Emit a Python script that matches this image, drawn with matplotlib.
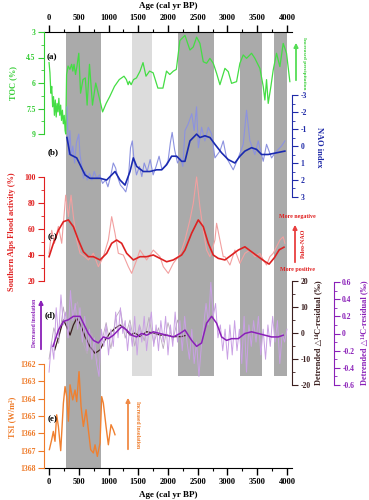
import numpy as np
import matplotlib
matplotlib.use('Agg')
import matplotlib.pyplot as plt
from matplotlib.ticker import MultipleLocator, FuncFormatter
from matplotlib.patches import FancyArrowPatch

plt.rcParams['font.family'] = ['Liberation Serif', 'DejaVu Serif', 'DejaVu Sans']
plt.rcParams['font.weight'] = 'bold'

# shaded intervals (cal yr BP)
band_start = [290, 1400, 2170, 3210, 3780]
band_end = [870, 1730, 2770, 3580, 4000]
band_kind = ['dark_full', 'light', 'dark', 'dark', 'dark']

# (a) TOC (%)
toc_age = [0, 15, 30, 45, 60, 75, 90, 105, 120, 135, 150, 165, 180, 195, 210, 225, 240, 255, 270, 280,
           295, 320, 350, 380, 400, 420, 445, 470, 500, 530, 570, 610, 640, 680, 730, 785, 840, 900,
           960, 1020, 1100, 1180, 1260, 1300, 1330, 1350, 1380, 1420, 1470, 1530, 1580, 1630, 1690,
           1750, 1830, 1915, 1975, 2030, 2090, 2140, 2200, 2285, 2369, 2425, 2481, 2537, 2593, 2649,
           2705, 2761, 2817, 2873, 2957, 3013, 3069, 3153, 3209, 3265, 3321, 3405, 3461, 3545, 3601,
           3629, 3657, 3685, 3730, 3769, 3825, 3881, 3937, 3993, 4049]
toc_val = [4.8, 5.4, 6.6, 6.2, 7.4, 6.8, 7.9, 7.0, 8.0, 7.2, 7.7, 6.9, 7.9, 7.3, 8.2, 7.6, 8.4, 7.9, 8.8, 9.0,
           5.5, 5.0, 5.2, 4.9, 5.3, 4.9, 5.5, 5.0, 4.25, 6.6, 5.8, 5.7, 7.3, 4.9, 7.3, 6.0, 6.8, 7.7,
           7.2, 6.8, 6.2, 5.8, 5.6, 5.8, 6.1, 5.9, 6.1, 5.8, 5.7, 5.3, 4.8, 5.6, 5.3,
           5.4, 6.3, 6.3, 5.3, 5.5, 5.3, 5.2, 3.5, 3.2, 4.06, 3.88, 3.3, 3.67, 4.75, 4.84,
           4.55, 4.84, 5.43, 6.1, 5.14, 5.33, 6.02, 5.92, 4.84, 4.35, 4.55, 4.25, 4.55, 5.14, 6.2,
           7.0, 5.8, 7.2, 6.2, 5.24, 4.25, 5.04, 3.67, 4.25, 5.92]

# (b) NAO index
nao_raw_age = [300, 330, 350, 375, 400, 430, 460, 500, 520, 550, 580, 610, 640, 680, 720, 760, 800, 850,
               900, 950, 990, 1040, 1080, 1120, 1160, 1200, 1250, 1290, 1330, 1370, 1400, 1430, 1470,
               1520, 1560, 1600, 1650, 1700, 1750, 1800, 1850, 1900, 1950, 2000, 2040, 2070, 2110,
               2160, 2210, 2250, 2285, 2340, 2400, 2440, 2480, 2510, 2565, 2620, 2677, 2733, 2789,
               2873, 2929, 2985, 3097, 3181, 3265, 3321, 3377, 3461, 3517, 3601, 3657, 3741, 3825,
               3909, 3965]
nao_raw = [-2.3, 0.5, -0.9, 0.6, 0.0, 1.0, -0.2, -0.7, 0.5, 1.2, 1.9, 1.5, 2.0, 1.6, 2.0, 1.5, 1.9, 1.7,
           2.2, 2.0, 2.4, 1.7, 1.0, 1.3, 1.9, 2.3, 2.5, 2.7, 2.1, 0.1, -0.3, 0.9, 1.7,
           1.2, 1.8, 1.0, 1.5, 0.8, 1.7, 1.2, 0.6, 1.4, 1.2, 0.9, -0.2, -0.8, 0.2,
           1.0, 0.7, 1.2, -0.9, -1.3, -1.9, -0.9, -2.3, 0.1, -1.1, -0.3, -1.1, -0.7, 0.7,
           0.3, -0.3, 0.7, 1.4, 0.7, -0.1, -2.1, -0.3, 0.5, -0.3, 0.9, -0.1, 0.7, 0.3,
           0.0, -0.3]
nao_sm_age = [300, 353, 465, 521, 605, 689, 857, 969, 1109, 1193, 1277, 1361, 1417, 1473, 1585, 1697,
              1809, 1893, 1977, 2061, 2145, 2229, 2285, 2369, 2481, 2537, 2621, 2705, 2789, 2901,
              3013, 3125, 3209, 3293, 3405, 3489, 3573, 3685, 3825, 3965]
nao_sm = [-0.5, 0.5, 0.7, 1.1, 1.7, 1.9, 1.9, 2.0, 1.5, 2.0, 2.3, 1.5, 0.7, 1.2, 1.5, 1.5,
          1.4, 1.4, 1.1, 0.6, 0.6, 0.9, 0.9, -0.3, -0.7, -0.5, -0.6, -0.5, -0.1, 0.4,
          0.8, 1.0, 0.6, 0.3, 0.1, 0.2, 0.5, 0.5, 0.4, 0.3]

# (c) Southern Alps flood activity (%)
fl_raw_age = [0, 45, 90, 157, 213, 280, 325, 370, 409, 465, 521, 605, 661, 745, 829, 913, 997, 1053,
              1109, 1165, 1249, 1333, 1389, 1473, 1529, 1641, 1753, 1865, 1921, 2005, 2089, 2173,
              2229, 2285, 2369, 2425, 2481, 2537, 2593, 2649, 2705, 2789, 2817, 2873, 2929, 2957,
              3041, 3125, 3209, 3293, 3377, 3461, 3545, 3601, 3657, 3713, 3769, 3825, 3881, 3937,
              3965]
fl_raw = [41.3, 59, 49, 62, 49, 86, 69.5, 86, 69.5, 51.5, 41.3, 38.7, 36.2, 41.3, 31, 38.7, 51.5, 69.5,
          56.7, 41.3, 40, 31, 25.9, 36.2, 43.8, 36.2, 43.8, 38.7, 31, 25.9, 33.6, 38.7,
          43.8, 51.5, 67, 79.7, 100, 76.9, 59, 43.8, 38.7, 51.5, 64.4, 51.5, 38.7, 38.7,
          32.3, 43.8, 33.6, 41.3, 43.8, 38.7, 41.3, 36.2, 32.3, 38.7, 41.3, 46.3, 51.5, 54,
          49]
fl_sm_age = [0, 73, 157, 241, 325, 409, 493, 577, 661, 745, 857, 969, 1053, 1137, 1221, 1305, 1417,
             1529, 1641, 1753, 1865, 1977, 2089, 2229, 2285, 2397, 2509, 2593, 2677, 2761, 2845,
             2957, 3069, 3181, 3293, 3405, 3517, 3630, 3700, 3790, 3870, 3950]
fl_sm = [38.7, 49, 59, 65.6, 67, 61.8, 51.5, 42.5, 38.7, 38.7, 36.2, 41.3, 49, 51.5, 49, 41.3, 36.2,
         38.7, 38.7, 40, 37.4, 34.8, 36.2, 40, 43.8, 56.7, 67, 61.8, 49, 40, 37.4,
         36.2, 40, 43.8, 46.3, 42.5, 38.7, 35, 33, 38, 44, 46]

# (d) Detrended D14C residual
c14_raw_age = list(range(0, 4001, 40))
c14_raw = [-0.45, -0.1, -0.3, 0.3, -0.05, 0.45, 0.1, 0.25, -0.05, 0.5, 0.15, 0.35, 0.05, 0.3, -0.1,
           0.2, -0.2, 0.05, -0.3, -0.05, -0.35, -0.5, 0.05, -0.15, 0.1, -0.25, 0.05, -0.15, 0.25,
           -0.05, 0.3, 0.0, 0.15, -0.2, 0.1, -0.15, 0.2, -0.25, 0.1, -0.1, 0.2, -0.2, 0.05, 0.25,
           -0.15, 0.1, -0.2, 0.15, -0.1, 0.2, -0.25, 0.1, -0.15, 0.25, -0.1, 0.15, -0.2, 0.2, -0.1,
           -0.3, 0.05, -0.35, -0.1, -0.5, -0.15, 0.1, 0.35, 0.1, 0.6, 0.2, 0.35, -0.05, 0.1, -0.2,
           0.05, -0.3, 0.1, -0.25, 0.15, -0.2, 0.05, -0.35, 0.2, -0.45, 0.1, -0.15, 0.15, -0.1,
           0.2, -0.25, 0.05, -0.3, 0.1, -0.15, 0.2, -0.1, 0.15, -0.35, 0.0, -0.1, 0.05]
c14_grey_age = list(range(0, 2321, 80))
c14_grey = [-10, 2, -4, 10, -2, 8, 12, -3, -8, 0, -12, -4, 4, -6, 6, 9, -2, 5, -5, 3, -3, 6, -4, 2,
            -6, 4, -3, 5, -2, 0]
c14_sm_age = [67, 157, 241, 325, 409, 521, 577, 661, 745, 829, 913, 997, 1081, 1165, 1221, 1305, 1389,
              1473, 1557, 1641, 1753, 1865, 1977, 2089, 2201, 2285, 2397, 2481, 2565, 2649, 2733,
              2817, 2901, 2985, 3069, 3181, 3293, 3405, 3517, 3629, 3741, 3853, 3937]
c14_sm = [-0.15, 0.04, 0.14, 0.16, 0.2, 0.2, 0.12, 0.0, -0.08, -0.11, -0.04, -0.06, -0.02, 0.04, 0.08,
          0.04, -0.02, -0.04, 0.0, -0.02, 0.02, 0.0, -0.02, -0.04, 0.0, 0.04, -0.08, -0.15, -0.11,
          0.12, 0.2, 0.12, -0.04, -0.08, -0.06, -0.06, 0.0, 0.02, 0.0, -0.02, -0.04, -0.04, -0.02]
c14_blk_age = [95, 179, 241, 297, 353, 409, 465, 521, 605, 689, 773, 857, 941, 1025, 1109, 1193, 1277,
               1361, 1445, 1529, 1641, 1753, 1865, 1977, 2089, 2229, 2285]
c14_blk = [-6.5, 0, 5, 2.4, -0.8, 3.1, 5.6, 3.7, -1.4, -5.3, -7.8, -6.5, -2.7, 0, 1.8, 3.1, 1.8,
           -0.8, 0, -1.4, 0.5, 0, -0.8, -0.8, -1.4, -1.4, -1.0]

# (e) TSI (W/m2)
tsi_age = [5, 44, 72, 100, 128, 157, 196, 241, 269, 297, 325, 353, 398, 437, 465, 504, 538, 577, 622,
           661, 700, 745, 773, 812, 857, 885, 913, 958, 997, 1042, 1081, 1109]
tsi_val = [1366.94, 1366.37, 1365.89, 1366.46, 1364.93, 1365.6, 1367.0, 1364.26, 1363.3, 1363.88,
           1365.3, 1363.2, 1364.07, 1363.5, 1364.17, 1362.44, 1364.45, 1365.6, 1364.64, 1365.8,
           1366.94, 1367.13, 1366.66, 1367.33, 1366.56, 1363.88, 1364.26, 1365.6, 1366.66, 1365.5,
           1365.8, 1366.08]

W, H = 369, 500
fig = plt.figure(figsize=(W / 100, H / 100), dpi=100)
XL = (-85, 4085)


def box(x0, y0, x1, y1):
    return [x0 / W, 1 - y1 / H, (x1 - x0) / W, (y1 - y0) / H]


def ftxt(x, y, s, **kw):
    kw.setdefault('ha', 'center')
    kw.setdefault('va', 'center')
    fig.text(x / W, 1 - y / H, s, **kw)


def farrow(x, y0, y1, color):
    fig.add_artist(FancyArrowPatch((x / W, 1 - y0 / H), (x / W, 1 - y1 / H),
                                   transform=fig.transFigure, arrowstyle='-|>',
                                   mutation_scale=6, color=color, lw=1.3))


fmt = FuncFormatter(lambda v, p: f'{round(v, 6) + 0:g}')

# base axes: age axis and shading
ax0 = fig.add_axes(box(44, 32, 292, 468))
ax0.set_xlim(XL)
ax0.set_ylim(0, 1)
ax0.spines['left'].set_visible(False)
ax0.spines['right'].set_visible(False)
ax0.set_yticks([])
ax0.xaxis.set_major_locator(MultipleLocator(500))
ax0.xaxis.set_minor_locator(MultipleLocator(250))
ax0.tick_params(axis='x', which='both', top=True, labeltop=True, direction='out', labelsize=6, pad=2)
ax0.tick_params(axis='x', which='major', length=5, width=1)
ax0.tick_params(axis='x', which='minor', length=2.5, width=0.8)
for a, b, k in zip(band_start, band_end, band_kind):
    col = '#dcdcdc' if k == 'light' else '#aaaaaa'
    ymin = 0 if k == 'dark_full' else 0.211
    ax0.axvspan(a, b, ymin=ymin, ymax=1, color=col, lw=0)
ftxt(168, 6, 'Age (cal yr BP)', fontsize=6.5)
ftxt(168, 495, 'Age (cal yr BP)', fontsize=6.5)


def panel(y0, y1, side, color, lim, major, minor):
    ax = fig.add_axes(box(44, y0, 292, y1), facecolor='none')
    ax.set_xlim(XL)
    ax.set_ylim(lim)
    for s in ax.spines:
        ax.spines[s].set_visible(s == side)
    ax.spines[side].set_color(color)
    ax.tick_params(axis='x', bottom=False, labelbottom=False)
    ax.yaxis.set_ticks_position(side)
    ax.yaxis.set_major_locator(MultipleLocator(major))
    if minor:
        ax.yaxis.set_minor_locator(MultipleLocator(minor))
    ax.yaxis.set_major_formatter(fmt)
    ax.tick_params(axis='y', which='both', colors=color, labelsize=5.5, pad=2, direction='out')
    ax.tick_params(axis='y', which='major', length=4)
    ax.tick_params(axis='y', which='minor', length=2)
    return ax


# (a)
green = '#33cc33'
axa = panel(32, 134, 'left', green, (9, 3), 1.5, 0.75)
axa.plot(toc_age, toc_val, color='#44dd44', lw=0.9, clip_on=False)
ftxt(13, 83, 'TOC (%)', rotation=90, color=green, fontsize=6)
ftxt(52, 57, '(a)', fontsize=6.5)
farrow(296, 83, 40, '#55dd55')
ftxt(304, 63, 'Increased precipitation', rotation=270, color=green, fontsize=3.8)

# (b)
blue = '#1f2aa8'
axb = panel(95, 197, 'right', blue, (3, -3), 1, 0.5)
axb.plot(nao_raw_age, nao_raw, color='#8c92e0', lw=0.8, clip_on=False)
axb.plot(nao_sm_age, nao_sm, color='#1a2ab0', lw=1.2)
ftxt(319, 147, 'NAO index', rotation=270, color=blue, fontsize=6)
ftxt(53, 152, '(b)', fontsize=6.5)

# (c)
red = '#e02020'
axc = panel(177, 281, 'left', red, (20, 100), 20, 10)
axc.plot(fl_raw_age, fl_raw, color='#f2a0a0', lw=0.8, clip_on=False)
axc.plot(fl_sm_age, fl_sm, color='#dd2222', lw=1.2)
ftxt(12, 232, 'Southern Alps Flood activity (%)', rotation=90, color=red, fontsize=6)
ftxt(53, 237, '(c)', fontsize=6.5)
ftxt(297, 217, 'More negative', color=red, fontsize=4.3)
farrow(295, 265, 222, '#e84040')
ftxt(303, 243, 'Paleo-NAO', rotation=90, color=red, fontsize=4.3)
ftxt(297, 269, 'More positive', color=red, fontsize=4.3)

# (d)
blk = '#3b1f1f'
purple = '#8a20b8'
axd = panel(281, 385, 'right', blk, (-20, 20), 10, 5)
axp = panel(282, 385, 'right', purple, (-0.6, 0.6), 0.2, 0.1)
axp.spines['right'].set_position(('axes', 1.169))
axp.plot(c14_raw_age, c14_raw, color='#c9a0e4', lw=0.7)
axd.plot(c14_grey_age, c14_grey, color='#b8a8bc', lw=0.6)
axp.plot(c14_sm_age, c14_sm, color=purple, lw=1.1)
axd.plot(c14_blk_age, c14_blk, color=blk, lw=0.9)
ftxt(318, 333, 'Detrended \u25b3\u00b9\u2074C-residual (\u2030)', rotation=90, color=blk, fontsize=6)
ftxt(364, 333, 'Detrended \u25b3\u00b9\u2074C-residual (\u2030)', rotation=90, color=purple, fontsize=6)
ftxt(50, 315, '(d)', fontsize=6.5)
farrow(41, 352, 297, purple)
ftxt(35, 323, 'Decreased insolation', rotation=90, color=purple, fontsize=4)

# (e)
orange = '#ee7a28'
axe = panel(364, 468, 'left', orange, (1368, 1362), 1, None)
axe.plot(tsi_age, tsi_val, color='#f08030', lw=1.0)
ftxt(12, 417, 'TSI (W/m\u00b2)', rotation=90, color=orange, fontsize=6)
ftxt(53, 419, '(e)', fontsize=6.5)
farrow(128, 452, 395, '#f08a45')
ftxt(137, 425, 'Increased insolation', rotation=270, color=orange, fontsize=4)

fig.savefig('out.png', dpi=100)
